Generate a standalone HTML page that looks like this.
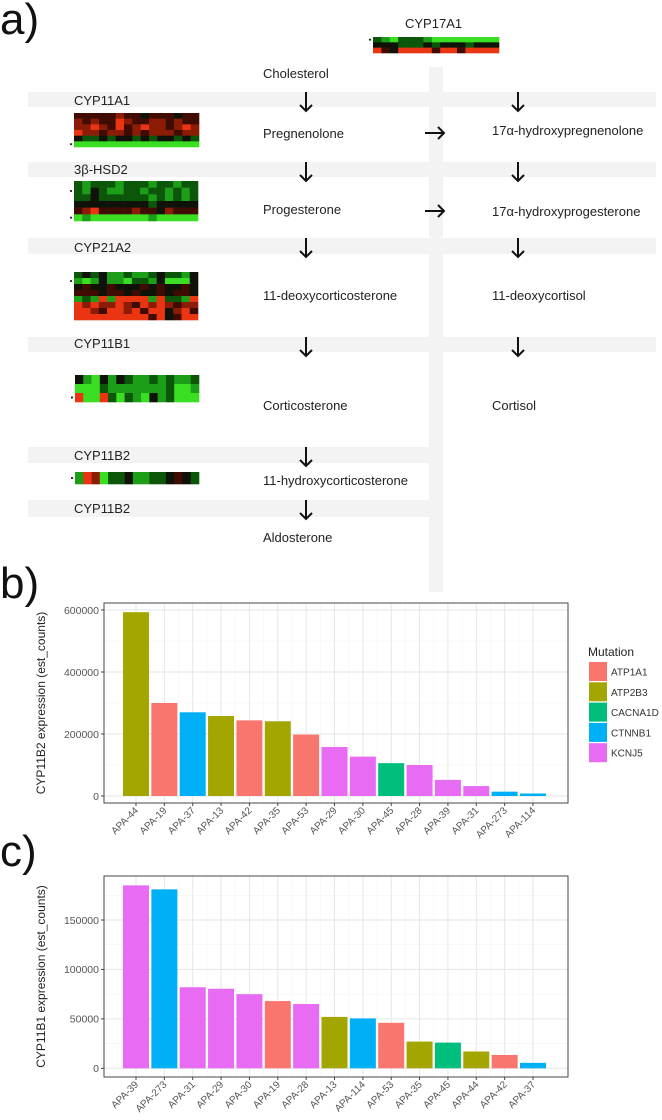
<!DOCTYPE html>
<html><head><meta charset="utf-8"><style>
body{margin:0;background:#fff;}
svg{display:block;font-family:"Liberation Sans",sans-serif;}
</style></head><body>
<svg id="s" width="662" height="1120" viewBox="0 0 662 1120">
<g id="pa">
<text x="0" y="34" font-size="44" fill="#111">a)</text>
<rect x="429" y="67" width="14" height="525" fill="#f3f3f3"/>
<g fill="#f3f3f3">
<rect x="28" y="92" width="401" height="15"/><rect x="443" y="92" width="213" height="15"/>
<rect x="28" y="162" width="401" height="15"/><rect x="443" y="162" width="213" height="15"/>
<rect x="28" y="238" width="401" height="16"/><rect x="443" y="238" width="213" height="16"/>
<rect x="28" y="337" width="401" height="15"/><rect x="443" y="337" width="213" height="15"/>
<rect x="28" y="447" width="401" height="16"/>
<rect x="28" y="500" width="401" height="17"/>
</g>
<g font-size="13" fill="#222">
<text x="405" y="28">CYP17A1</text>
<text x="74" y="105">CYP11A1</text>
<text x="74" y="174">3β-HSD2</text>
<text x="74" y="252">CYP21A2</text>
<text x="74" y="348">CYP11B1</text>
<text x="74" y="460">CYP11B2</text>
<text x="74" y="513">CYP11B2</text>
<text x="263" y="78">Cholesterol</text>
<text x="263" y="138">Pregnenolone</text>
<text x="492" y="135">17α-hydroxypregnenolone</text>
<text x="263" y="214">Progesterone</text>
<text x="492" y="216">17α-hydroxyprogesterone</text>
<text x="263" y="300">11-deoxycorticosterone</text>
<text x="492" y="300">11-deoxycortisol</text>
<text x="263" y="410">Corticosterone</text>
<text x="492" y="410">Cortisol</text>
<text x="263" y="485">11-hydroxycorticosterone</text>
<text x="263" y="542">Aldosterone</text>
</g>
<g id="arrows" stroke="#111" stroke-width="2" fill="none"></g>
<g id="heat"></g>
<text x="0" y="598" font-size="44" fill="#111">b)</text>
<text x="0" y="866" font-size="44" fill="#111">c)</text>
</g>
<g id="cb"></g>
<g id="cc"></g>
<g id="leg"></g>
</svg>
<script>
const NS="http://www.w3.org/2000/svg";
function mk(tag,attrs,parent){const e=document.createElementNS(NS,tag);for(const k in attrs)e.setAttribute(k,attrs[k]);parent.appendChild(e);return e;}
const downArrows=[[306,92],[518,92],[306,162],[518,162],[306,238],[518,238],[306,337],[518,337],[306,447],[306,500]];
const rightArrows=[[425,133],[425,211]];
const A=document.getElementById('arrows');
downArrows.forEach(p=>{const g=mk('path',{d:`M${p[0]} ${p[1]}v19M${p[0]-6} ${p[1]+13}l6 6l6 -6`},A);

});
rightArrows.forEach(p=>{const g=mk('path',{d:`M${p[0]} ${p[1]}h19M${p[0]+13} ${p[1]-6}l6 6l-6 6`},A);

});
const heatColors={G:'#3ade22',g:'#1d9e18',d:'#0c560a',k:'#0f1208',m:'#400c02',r:'#8c1c06',R:'#ea3412'};
const hmCyp17a1=["dgGdddgGGGGGGGG","kkkdddkdkkkdkkk","RmkRRRRmRRmRRRR"];
const hmCyp11a1=["mmmmmrmmkmmmkmm","rmrmmRrmmrrmrmm","rrRrmRmrRrrmrRr","Rrrmrrmrmrrrmrr","kddkdkkdkdkkdkd","GGGGGGGGGGGGGGG"];
const hm3bhsd2=["dgdddgdddgddgdd","dgkdggddgddgdgd","ddkddddddgdgdgd","kkkkkkkkkdkkkkk","mrRmmmmrmmkrmmm","GgGGGGGGGgGGGGG"];
const hmCyp21a2=["dkdkggdggdkddgk","gGgkggGddgkGGGk","kmkkmkkkmkmkkmk","mmmkmmkmkkmkmmk","gdgRgRRRRgRddgR","RrRrrRrmRrRrmrr","RRrmRRrRmRRkrRm","RRRRRRRRRmRkmRR"];
const hmCyp11b1=["kgGkgkdggdgdggd","GGGdgggggggdGGg","RGGRdGdgGkgdGGG"];
const hmCyp11b2=["gRrGddkggddkmkd"];
const H=document.getElementById('heat');
function heat(rows,x,y,w,h,name,dots){
 const g=mk('g',{},H);
 
 
 const cw=w/rows[0].length,ch=h/rows.length;
 rows.forEach((r,i)=>{[...r].forEach((c,j)=>{mk('rect',{x:x+j*cw,y:y+i*ch,width:cw+0.3,height:ch+0.3,fill:heatColors[c]},g);});});
 dots.forEach(i=>mk('circle',{cx:x-3,cy:y+(i+0.5)*ch,r:1.1,fill:'#222'},g));
}
heat(hmCyp17a1,373,37,126,16,'heatmap-cyp17a1',[0]);
heat(hmCyp11a1,74,113,125,34,'heatmap-cyp11a1',[5]);
heat(hm3bhsd2,74,181,124,40,'heatmap-3b-hsd2',[1,5]);
heat(hmCyp21a2,74,272,124,48,'heatmap-cyp21a2',[1]);
heat(hmCyp11b1,75,375,124,27,'heatmap-cyp11b1',[2]);
heat(hmCyp11b2,75,472,124,12,'heatmap-cyp11b2',[0]);

const mutColors={ATP1A1:'#F8766D',ATP2B3:'#A3A500',CACNA1D:'#00BF7D',CTNNB1:'#00B0F6',KCNJ5:'#E76BF3'};
const mutations=['ATP1A1','ATP2B3','CACNA1D','CTNNB1','KCNJ5'];
const bCategories=['APA-44','APA-19','APA-37','APA-13','APA-42','APA-35','APA-53','APA-29','APA-30','APA-45','APA-28','APA-39','APA-31','APA-273','APA-114'];
const bValues=[593000,300000,270000,258000,244000,241000,198000,158000,127000,106000,100000,52000,32000,14000,8000];
const bMut=['ATP2B3','ATP1A1','CTNNB1','ATP2B3','ATP1A1','ATP2B3','ATP1A1','KCNJ5','KCNJ5','CACNA1D','KCNJ5','KCNJ5','KCNJ5','CTNNB1','CTNNB1'];
const bTicks=[0,200000,400000,600000];
const cCategories=['APA-39','APA-273','APA-31','APA-29','APA-30','APA-19','APA-28','APA-13','APA-114','APA-53','APA-35','APA-45','APA-44','APA-42','APA-37'];
const cValues=[185000,181000,82000,80500,75000,68000,65000,52000,50500,46000,27000,26000,17000,13500,5500];
const cMut=['KCNJ5','CTNNB1','KCNJ5','KCNJ5','KCNJ5','ATP1A1','KCNJ5','ATP2B3','CTNNB1','ATP1A1','ATP2B3','CACNA1D','ATP2B3','ATP1A1','CTNNB1'];
const cTicks=[0,50000,100000,150000];

function chart(gid,cats,vals,muts,ticks,top,bot,y0,ppu,title,prefix){
 const G=document.getElementById(gid);
 const L=104,R=568;
 const xs=i=>136+i*(533-136)/(cats.length-1);
 const ys=v=>y0-v*ppu;
 mk('rect',{x:L,y:top,width:R-L,height:bot-top,fill:'#fff'},G);
 for(let k=0;k<ticks.length;k++){const v=ticks[k]+(ticks[1]-ticks[0])/2;const yy=ys(v);if(yy>top)mk('line',{x1:L,x2:R,y1:yy,y2:yy,stroke:'#f4f4f4','stroke-width':0.6},G);}
 const ym=ys(-(ticks[1]-ticks[0])/2);if(ym<bot)mk('line',{x1:L,x2:R,y1:ym,y2:ym,stroke:'#f4f4f4','stroke-width':0.6},G);
 for(let i=0;i<cats.length-1;i++){const xx=(xs(i)+xs(i+1))/2;mk('line',{x1:xx,x2:xx,y1:top,y2:bot,stroke:'#f4f4f4','stroke-width':0.6},G);}
 ticks.forEach(t=>{mk('line',{x1:L,x2:R,y1:ys(t),y2:ys(t),stroke:'#e6e6e6','stroke-width':1},G);});
 cats.forEach((c,i)=>{mk('line',{x1:xs(i),x2:xs(i),y1:top,y2:bot,stroke:'#e6e6e6','stroke-width':1},G);});
 const bw=26;
 vals.forEach((v,i)=>{const r=mk('rect',{x:xs(i)-bw/2,y:ys(v),width:bw,height:ys(0)-ys(v),fill:mutColors[muts[i]]},G);
 
 });
 mk('rect',{x:L,y:top,width:R-L,height:bot-top,fill:'none',stroke:'#444','stroke-width':1},G);
 ticks.forEach(t=>{mk('line',{x1:L-3,x2:L,y1:ys(t),y2:ys(t),stroke:'#444'},G);
 const tx=mk('text',{x:L-5,y:ys(t)+3.8,'text-anchor':'end','font-size':10.5,fill:'#555'},G);tx.textContent=t;
 
 });
 cats.forEach((c,i)=>{mk('line',{x1:xs(i),x2:xs(i),y1:bot,y2:bot+3,stroke:'#444'},G);
 const tx=mk('text',{x:xs(i)+3,y:bot+8,'text-anchor':'end','font-size':10,fill:'#555',transform:`rotate(-45 ${xs(i)+3} ${bot+8})`},G);tx.textContent=c;
 
 });
 const yc=(top+bot)/2;
 const tt=mk('text',{x:45,y:yc,'text-anchor':'middle','font-size':12,fill:'#222',transform:`rotate(-90 45 ${yc})`},G);tt.textContent=title;
 
 
}
chart('cb',bCategories,bValues,bMut,bTicks,603,803,796,186/600000,'CYP11B2 expression (est_counts)','b');
chart('cc',cCategories,cValues,cMut,cTicks,876,1077,1068.3,148.3/150000,'CYP11B1 expression (est_counts)','c');
const LG=document.getElementById('leg');
const lt=mk('text',{x:588,y:656,'font-size':12,fill:'#222'},LG);lt.textContent='Mutation';


mutations.forEach((m,i)=>{const g=mk('g',{},LG);
 
 
 mk('rect',{x:589,y:662+i*20.3,width:18,height:19,fill:mutColors[m]},g);
 const t=mk('text',{x:611,y:675.5+i*20.3,'font-size':10,fill:'#333'},g);t.textContent=m;});
</script>
</body></html>
